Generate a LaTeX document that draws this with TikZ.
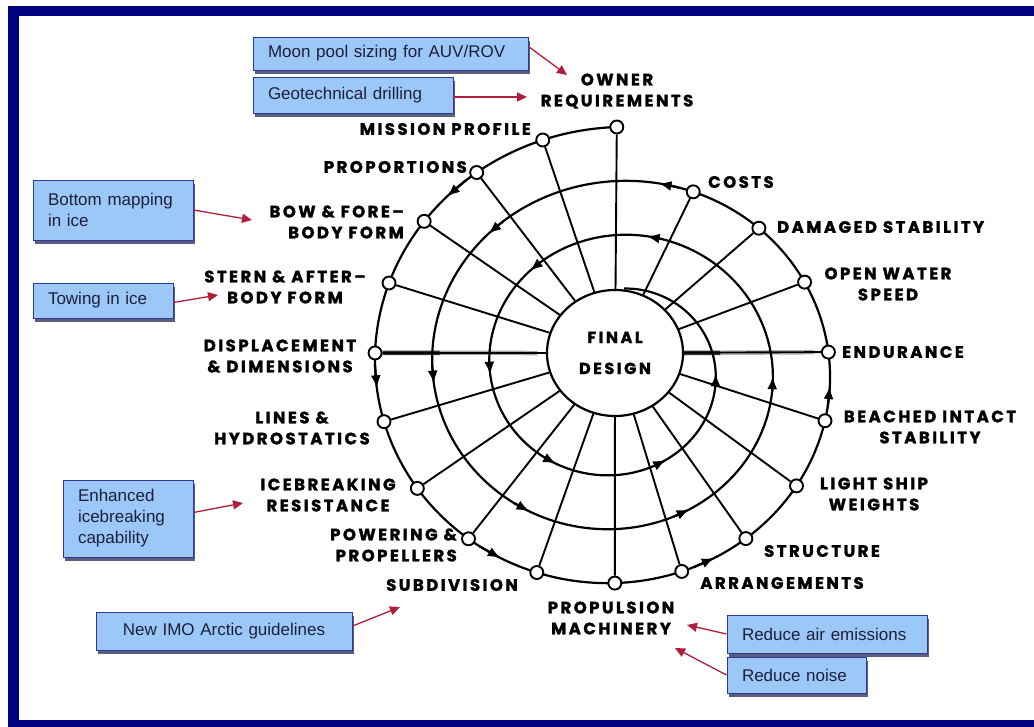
\documentclass[tikz,border=0pt]{standalone}
\usepackage{fontspec}
\setmainfont{Liberation Sans}
\newfontfamily\labfont{Poppins}[LetterSpace=15, BoldFeatures={FakeBold=1.6}]
\newfontfamily\fdfont{Poppins}[LetterSpace=16, BoldFeatures={FakeBold=1.4}]
\usetikzlibrary{arrows.meta,shapes.geometric,shadows,calc,backgrounds}
\definecolor{navy}{HTML}{000080}
\definecolor{boxfill}{HTML}{9CC8F8}
\definecolor{boxline}{HTML}{2A3A96}
\definecolor{boxshadow}{HTML}{5A5F82}
\definecolor{redarrow}{HTML}{B01E3C}
\definecolor{boxtext}{HTML}{1E1E3C}
\tikzset{
  lab/.style={font=\labfont\bfseries\fontsize{16.5}{21}\selectfont, align=center, inner sep=0pt},
  dot/.style={circle, draw, fill=white, line width=1.9pt, minimum size=13pt, inner sep=0pt},
  ring/.style={line width=2.2pt},
  spoke/.style={line width=1.9pt},
  bluebox/.style={draw=boxline, fill=boxfill, line width=1pt, text=boxtext,
    font=\fontsize{17}{21}\selectfont, inner xsep=15pt, inner ysep=0pt, align=left,
    drop shadow={shadow xshift=2pt, shadow yshift=-4pt, fill=boxshadow, opacity=1}},
  redarr/.style={draw=redarrow, line width=1.3pt, -{Triangle[length=10pt,width=9pt]}},
  dirmark/.style={ring, -{Latex[length=13pt,width=10pt]}}
}
\begin{document}
\begin{tikzpicture}[x=1pt,y=-1pt]
\useasboundingbox (0,0) rectangle (1034,726);
\begin{scope}[on background layer]
\fill[white] (0,0) rectangle (1034,726);
\end{scope}
\begin{scope}
\clip (0,0) rectangle (1034,726);
\draw[navy, line width=10.5pt] (13.5,11) rectangle (1045,725);
\end{scope}

% spiral
\draw[ring] plot[domain=90:1165, samples=500, variable=\t, smooth]
  ({616.8+1.06*(241.5-0.15*(\t-90))*cos(\t)}, {368.5-(241.5-0.15*(\t-90))*sin(\t)});

% direction marks on spiral
\foreach \a in {133,185,240,296,355,438,492,545,600,656,717,798,850,903,959,1017,1077}{
  \pgfmathsetmacro\ra{241.5-0.15*(\a-90)}
  \pgfmathsetmacro\rb{241.5-0.15*(\a-96)}
  \draw[dirmark] ({616.8+1.06*\rb*cos(\a-6)},{368.5-\rb*sin(\a-6)}) -- ({616.8+1.06*\ra*cos(\a)},{368.5-\ra*sin(\a)});
}

% final design
\node[ellipse, draw, line width=2.2pt, fill=white, minimum width=136pt, minimum height=126pt, inner sep=0pt,
  font=\fdfont\bfseries\fontsize{16}{31}\selectfont, align=center] (fd) at (615,353) {FINAL\\DESIGN};

% outer nodes
\foreach \t/\n in {90/own,107/mis,124/pro,141/bow,158.3/ste,176.1/dis,193.6/lin,212.5/ice,230.6/pow,249.7/sub,269.5/prp,286.8/arr,305.6/str,325.3/lig,345.1/bea,364.7/end,386/opn,406.3/dam,427.8/cos}{
  \pgfmathsetmacro\r{241.5-0.15*(\t-90)}
  \node[dot] (\n) at ({616.8+1.06*\r*cos(\t)},{368.5-\r*sin(\t)}) {};
}

% thick horizontal bars
\begin{scope}[on background layer]
\draw[line width=4.5pt, black!80] (dis) -- ($(dis)!0.38!(fd.west)$);
\draw[line width=4.5pt, black!35] ($(dis)!0.38!(fd.west)$) -- ($(dis)!0.95!(fd.west)$);
\draw[line width=4.5pt, black!80] (fd.east) -- ($(fd.east)!0.25!(end)$);
\draw[line width=4.5pt, black!30] ($(fd.east)!0.25!(end)$) -- ($(fd.east)!0.9!(end)$);
\end{scope}

% spokes
\foreach \n in {own,mis,pro,bow,ste,dis,lin,ice,pow,sub,prp,arr,str,lig,bea,end,opn,dam,cos}{
  \draw[spoke] (\n) -- (fd);
}

% labels
\node[lab] (l-own) at (617,91) {OWNER\\REQUIREMENTS};
\node[lab, anchor=east] (l-mis) at (531,129) {MISSION PROFILE};
\node[lab, anchor=east] (l-pro) at (467,167) {PROPORTIONS};
\node[lab, align=right, anchor=east] (l-bow) at (404,222) {BOW \& FORE–\\BODY FORM};
\node[lab] (l-ste) at (285,287) {STERN \& AFTER–\\BODY FORM};
\node[lab] (l-dis) at (280,356) {DISPLACEMENT\\\& DIMENSIONS};
\node[lab] (l-lin) at (292,428) {LINES \&\\HYDROSTATICS};
\node[lab] (l-ice) at (328,495) {ICEBREAKING\\RESISTANCE};
\node[lab, align=right, anchor=east] (l-pow) at (457,545) {POWERING \&\\PROPELLERS};
\node[lab] (l-sub) at (452,585) {SUBDIVISION};
\node[lab] (l-prp) at (611,618) {PROPULSION\\MACHINERY};
\node[lab] (l-arr) at (782,583) {ARRANGEMENTS};
\node[lab] (l-str) at (822,551) {STRUCTURE};
\node[lab] (l-lig) at (874,494) {LIGHT SHIP\\WEIGHTS};
\node[lab] (l-bea) at (930,427) {BEACHED INTACT\\STABILITY};
\node[lab, anchor=west] (l-end) at (842,352) {ENDURANCE};
\node[lab] (l-opn) at (888,284) {OPEN WATER\\SPEED};
\node[lab, anchor=west] (l-dam) at (777,227) {DAMAGED STABILITY};
\node[lab, anchor=west] (l-cos) at (708,182) {COSTS};

% blue boxes
\node[bluebox, text width=245pt, minimum height=33pt] (b1) at (390.5,53.5) {Moon pool sizing for AUV/ROV};
\node[bluebox, text width=170pt, minimum height=36pt] (b2) at (353,95) {Geotechnical drilling};
\node[bluebox, text width=130pt, minimum height=60pt] (b3) at (113,210) {Bottom mapping\\in ice};
\node[bluebox, text width=110pt, minimum height=35pt] (b4) at (103,300.5) {Towing in ice};
\node[bluebox, text width=100pt, minimum height=77pt] (b5) at (128,518.5) {Enhanced\\icebreaking\\capability};
\node[bluebox, text width=226pt, minimum height=38pt, align=center] (b6) at (224,631) {New IMO Arctic guidelines};
\node[bluebox, text width=170pt, minimum height=38pt] (b7) at (827,634) {Reduce air emissions};
\node[bluebox, text width=109pt, minimum height=36pt] (b8) at (796.5,675) {Reduce noise};

% red arrows
\coordinate (t1) at (567,75);
\coordinate (t2) at (527,97);
\coordinate (t3) at (252,220);
\coordinate (t4) at (218,295);
\coordinate (t5) at (243,503);
\coordinate (t6) at (400,607);
\coordinate (t7) at (687,625);
\coordinate (t8) at (675,648);
\draw[redarr] ([yshift=7pt]b1.east) -- (t1);
\draw[redarr] ([yshift=-2pt]b2.east) -- (t2);
\draw[redarr] (b3.east) -- (t3);
\draw[redarr] ([yshift=-2pt]b4.east) -- (t4);
\draw[redarr] ([yshift=6pt]b5.east) -- (t5);
\draw[redarr] ([yshift=5pt]b6.east) -- (t6);
\draw[redarr] (b7.west) -- (t7);
\draw[redarr] (b8.west) -- (t8);
\end{tikzpicture}
\end{document}
